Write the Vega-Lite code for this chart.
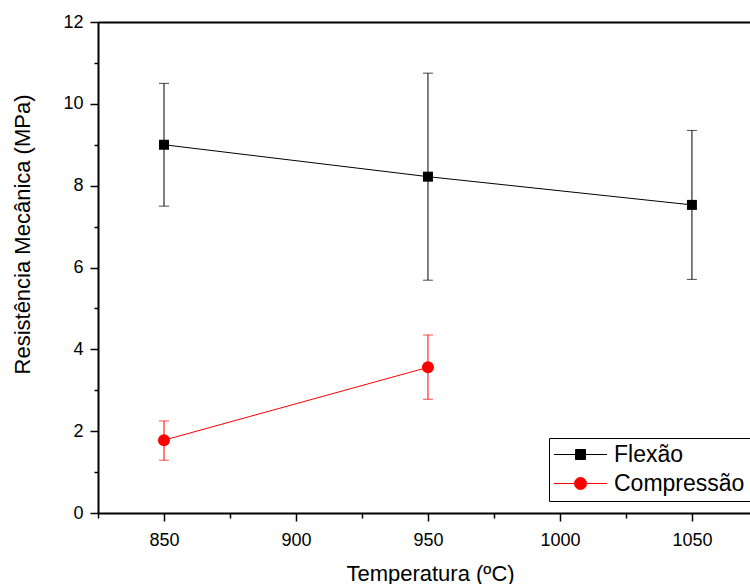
{
  "$schema": "https://vega.github.io/schema/vega-lite/v6.json",
  "autosize": {"type": "none"},
  "padding": {"left": 98, "top": 22, "right": 0, "bottom": 71},
  "width": 652,
  "height": 491,
  "background": "white",
  "config": {
    "view": {"stroke": null},
    "font": "Liberation Sans",
    "axis": {
      "grid": false,
      "domainColor": "black",
      "domainWidth": 2,
      "tickColor": "black",
      "tickWidth": 1.5,
      "labelColor": "black",
      "labelFont": "Liberation Sans",
      "labelFontSize": 18,
      "titleFont": "Liberation Sans",
      "titleFontSize": 22,
      "titleFontWeight": "normal",
      "titleColor": "black"
    },
    "legend": {
      "orient": "none",
      "legendX": 451,
      "legendY": 416,
      "strokeColor": "black",
      "strokeWidth": 1,
      "padding": 5,
      "rowPadding": 5,
      "symbolSize": 100,
      "symbolStrokeWidth": 1,
      "symbolOffset": 15,
      "labelOffset": 22,
      "labelFont": "Liberation Sans",
      "labelFontSize": 23,
      "labelColor": "black",
      "labelBaseline": "middle",
      "labelLimit": 300
    }
  },
  "data": {
    "values": [
      {"series": "Flexão", "temp": 850, "value": 9.0, "lo": 7.5, "hi": 10.5},
      {"series": "Flexão", "temp": 950, "value": 8.22, "lo": 5.69, "hi": 10.75},
      {"series": "Flexão", "temp": 1050, "value": 7.53, "lo": 5.71, "hi": 9.35},
      {"series": "Compressão", "temp": 850, "value": 1.78, "lo": 1.29, "hi": 2.25},
      {"series": "Compressão", "temp": 950, "value": 3.56, "lo": 2.78, "hi": 4.35}
    ]
  },
  "resolve": {"axis": {"x": "independent", "y": "independent"}},
  "layer": [
    {
      "mark": {"type": "rule", "strokeWidth": 1},
      "encoding": {
        "x": {
          "field": "temp", "type": "quantitative",
          "scale": {"domain": [825, 1072], "nice": false, "zero": false},
          "axis": {
            "orient": "bottom", "values": [850, 900, 950, 1000, 1050], "format": "d",
            "tickSize": 8, "labelPadding": 10,
            "title": "Temperatura (ºC)",
            "titleX": 332, "titleY": 60, "titleAlign": "center", "titleBaseline": "middle"
          }
        },
        "y": {
          "field": "lo", "type": "quantitative",
          "scale": {"domain": [0, 12], "nice": false, "zero": false},
          "axis": {
            "orient": "left", "values": [0, 2, 4, 6, 8, 10, 12],
            "tickSize": 8, "labelPadding": 7,
            "title": "Resistência Mecânica (MPa)",
            "titleX": -76, "titleY": 212, "titleAngle": 270,
            "titleAlign": "center", "titleBaseline": "middle"
          }
        },
        "y2": {"field": "hi"},
        "color": {
          "field": "series", "type": "nominal",
          "scale": {"domain": ["Flexão", "Compressão"], "range": ["black", "red"]},
          "legend": {
            "title": null,
            "encode": {
              "symbols": {
                "update": {
                  "shape": {"signal": "datum.value === 'Flexão' ? 'M-5.3,0H-1M1,0H5.3M-1,-1H1V1H-1Z' : 'M-5.3,0H-1.2M1.2,0H5.3M-1.2,0A1.2,1.2,0,1,0,1.2,0A1.2,1.2,0,1,0,-1.2,0Z'"},
                  "fill": {"signal": "datum.value === 'Flexão' ? 'black' : 'red'"},
                  "stroke": {"signal": "datum.value === 'Flexão' ? 'black' : 'red'"},
                  "strokeWidth": {"value": 1},
                  "opacity": {"value": 1},
                  "fillOpacity": {"value": 1}
                }
              }
            }
          }
        }
      }
    },
    {
      "mark": {"type": "tick", "orient": "horizontal", "size": 10, "thickness": 1},
      "encoding": {
        "x": {
          "field": "temp", "type": "quantitative",
          "axis": {
            "orient": "bottom", "values": [825, 875, 925, 975, 1025],
            "tickSize": 5, "labels": false, "domain": false, "title": null
          }
        },
        "y": {
          "field": "lo", "type": "quantitative",
          "axis": {
            "orient": "left", "values": [1, 3, 5, 7, 9, 11],
            "tickSize": 4, "labels": false, "domain": false, "title": null
          }
        },
        "color": {"field": "series", "type": "nominal", "legend": null}
      }
    },
    {
      "mark": {"type": "tick", "orient": "horizontal", "size": 10, "thickness": 1},
      "encoding": {
        "x": {
          "field": "temp", "type": "quantitative",
          "axis": {"orient": "top", "ticks": false, "labels": false, "domain": true, "title": null}
        },
        "y": {"field": "hi", "type": "quantitative", "axis": null},
        "color": {"field": "series", "type": "nominal", "legend": null}
      }
    },
    {
      "mark": {"type": "line", "strokeWidth": 1},
      "encoding": {
        "x": {"field": "temp", "type": "quantitative", "axis": null},
        "y": {"field": "value", "type": "quantitative", "axis": null},
        "color": {"field": "series", "type": "nominal", "legend": null}
      }
    },
    {
      "transform": [{"filter": "datum.series === 'Flexão'"}],
      "mark": {"type": "square", "size": 100, "filled": true, "opacity": 1},
      "encoding": {
        "x": {"field": "temp", "type": "quantitative", "axis": null},
        "y": {"field": "value", "type": "quantitative", "axis": null},
        "color": {"field": "series", "type": "nominal", "legend": null}
      }
    },
    {
      "transform": [{"filter": "datum.series === 'Compressão'"}],
      "mark": {"type": "circle", "size": 144, "opacity": 1},
      "encoding": {
        "x": {"field": "temp", "type": "quantitative", "axis": null},
        "y": {"field": "value", "type": "quantitative", "axis": null},
        "color": {"field": "series", "type": "nominal", "legend": null}
      }
    }
  ]
}
